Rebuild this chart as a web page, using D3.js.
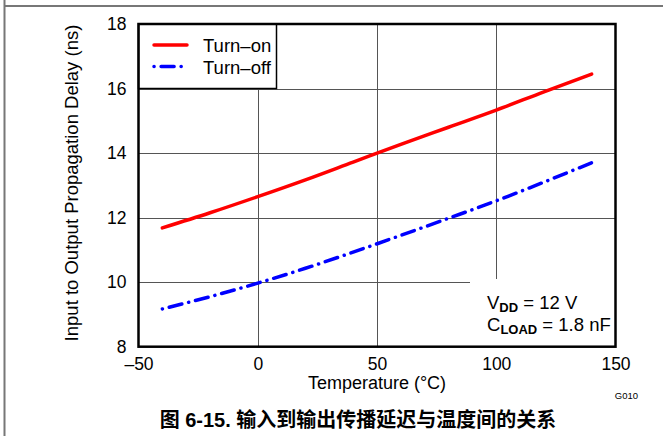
<!DOCTYPE html>
<html>
<head>
<meta charset="utf-8">
<script src="https://cdn.jsdelivr.net/npm/d3@7"></script>
<style>
	body { margin: 0; background: #fff; }
	svg { display: block; font-family: "Liberation Sans", Arial, sans-serif; }
</style>
</head>
<body>
<div id="chart"></div>
<script>
(function () {

	var temps = [-40, -20, 0, 20, 40, 60, 80, 100, 120, 140];
	var turnOn = [11.68, 12.15, 12.65, 13.17, 13.72, 14.27, 14.8, 15.33, 15.9, 16.45];
	var turnOff = [9.17, 9.55, 9.97, 10.43, 10.93, 11.45, 11.98, 12.52, 13.1, 13.7];
	var xTicks = [-50, 0, 50, 100, 150];
	var yTicks = [8, 10, 12, 14, 16, 18];
	var seriesNames = ["Turn\u2013on", "Turn\u2013off"];

	var W = 663, H = 436;
	var left = 138.5, right = 615.5, top = 24, bottom = 346.7;

	var svg = d3.select("#chart")
				.append("svg")
				.attr("width", W)
				.attr("height", H)
				;

	// page border bits
	svg.append("line").attr("x1", 4.5).attr("x2", 4.5).attr("y1", 0).attr("y2", H)
		.style("stroke", "#777").style("stroke-width", 2);
	svg.append("line").attr("x1", 4).attr("x2", W).attr("y1", 6).attr("y2", 6)
		.style("stroke", "#777").style("stroke-width", 2);

	var x = d3.scaleLinear().domain([-50, 150]).range([left, right]);
	var y = d3.scaleLinear().domain([8, 18]).range([bottom, top]);

	var fmt = function(d) { return String(d).replace("-", "\u2013"); };

	// grid
	var grid = svg.append("g").attr("class", "grid");
	grid.selectAll("line.gx")
		.data(xTicks.slice(1, -1))
		.enter()
		.append("line")
		.attr("x1", function(d) { return Math.round(x(d)) + 0.5; })
		.attr("x2", function(d) { return Math.round(x(d)) + 0.5; })
		.attr("y1", top).attr("y2", bottom)
		.style("stroke", "#555").style("stroke-width", 1);
	grid.selectAll("line.gy")
		.data(yTicks.slice(1, -1))
		.enter()
		.append("line")
		.attr("y1", function(d) { return Math.round(y(d)) + 0.5; })
		.attr("y2", function(d) { return Math.round(y(d)) + 0.5; })
		.attr("x1", left).attr("x2", right)
		.style("stroke", "#555").style("stroke-width", 1);

	// white boxes over grid (legend + note)
	svg.append("rect").attr("x", left).attr("y", top).attr("width", 138).attr("height", 64.5)
		.style("fill", "#fff").style("stroke", "#000").style("stroke-width", 1.5);
	svg.append("rect").attr("x", 470).attr("y", 279).attr("width", right - 470).attr("height", bottom - 279)
		.style("fill", "#fff");

	// curves
	var line = d3.line()
				.x(function(d) { return x(d[0]); })
				.y(function(d) { return y(d[1]); })
				.curve(d3.curveMonotoneX);

	svg.append("path")
		.datum(d3.zip(temps, turnOn))
		.attr("d", line)
		.style("fill", "none").style("stroke", "#ff0000")
		.style("stroke-width", 3.5).style("stroke-linecap", "round");

	svg.append("path")
		.datum(d3.zip(temps, turnOff))
		.attr("d", line)
		.style("fill", "none").style("stroke", "#0000ff")
		.style("stroke-width", 3.5).style("stroke-linecap", "round")
		.style("stroke-dasharray", "0.1,7,13,7");

	// frame
	svg.append("rect").attr("x", left).attr("y", top).attr("width", right - left).attr("height", bottom - top)
		.style("fill", "none").style("stroke", "#000").style("stroke-width", 2.5);

	// axes labels
	var xAxis = d3.axisBottom(x).tickValues(xTicks).tickSize(0).tickPadding(11).tickFormat(fmt);
	var gx = svg.append("g").attr("transform", "translate(0," + bottom + ")").call(xAxis);
	gx.select(".domain").remove();
	gx.selectAll("text").style("font-size", "17.5px").style("fill", "#000").style("font-family", "Liberation Sans, Arial, sans-serif");

	var yAxis = d3.axisLeft(y).tickValues(yTicks).tickSize(0).tickPadding(12).tickFormat(fmt);
	var gy = svg.append("g").attr("transform", "translate(" + left + ",0)").call(yAxis);
	gy.select(".domain").remove();
	gy.selectAll("text").style("font-size", "17.5px").style("fill", "#000").style("font-family", "Liberation Sans, Arial, sans-serif");

	svg.append("text")
		.attr("x", (left + right) / 2).attr("y", 389)
		.attr("text-anchor", "middle")
		.style("font-size", "18px")
		.text("Temperature (\u00B0C)");

	svg.append("text")
		.attr("transform", "translate(78,183) rotate(-90)")
		.attr("text-anchor", "middle")
		.style("font-size", "18.5px")
		.text("Input to Output Propagation Delay (ns)");

	// legend
	var lg = svg.append("g");
	lg.append("line").attr("x1", 154).attr("x2", 187).attr("y1", 45).attr("y2", 45)
		.style("stroke", "#ff0000").style("stroke-width", 3.5).style("stroke-linecap", "round");
	lg.append("line").attr("x1", 154).attr("x2", 182).attr("y1", 66.5).attr("y2", 66.5)
		.style("stroke", "#0000ff").style("stroke-width", 3.5).style("stroke-linecap", "round")
		.style("stroke-dasharray", "0.1,7,13,7");
	lg.selectAll("text")
		.data(seriesNames)
		.enter()
		.append("text")
		.attr("x", 203)
		.attr("y", function(d, i) { return 52 + i * 21.5; })
		.style("font-size", "18.5px")
		.text(function(d) { return d; });

	// conditions note
	var n1 = svg.append("text").attr("x", 487).attr("y", 309).style("font-size", "18.5px");
	n1.append("tspan").text("V");
	n1.append("tspan").attr("dy", 3).style("font-size", "13px").style("font-weight", "bold").text("DD");
	n1.append("tspan").attr("dy", -3).text(" = 12 V");

	var n2 = svg.append("text").attr("x", 487).attr("y", 331).style("font-size", "18.5px");
	n2.append("tspan").text("C");
	n2.append("tspan").attr("dy", 3).style("font-size", "13px").style("font-weight", "bold").text("LOAD");
	n2.append("tspan").attr("dy", -3).text(" = 1.8 nF");

	svg.append("text")
		.attr("x", 638).attr("y", 398.5)
		.attr("text-anchor", "end")
		.style("font-size", "9.5px")
		.text("G010");

	svg.append("text")
		.attr("x", 358).attr("y", 427)
		.attr("text-anchor", "middle")
		.style("font-size", "20px")
		.style("font-weight", "bold")
		.style("font-family", "\"Liberation Sans\", \"Noto Sans CJK SC\", sans-serif")
		.text("\u56FE 6-15. \u8F93\u5165\u5230\u8F93\u51FA\u4F20\u64AD\u5EF6\u8FDF\u4E0E\u6E29\u5EA6\u95F4\u7684\u5173\u7CFB");

}) ();
</script>
</body>
</html>
